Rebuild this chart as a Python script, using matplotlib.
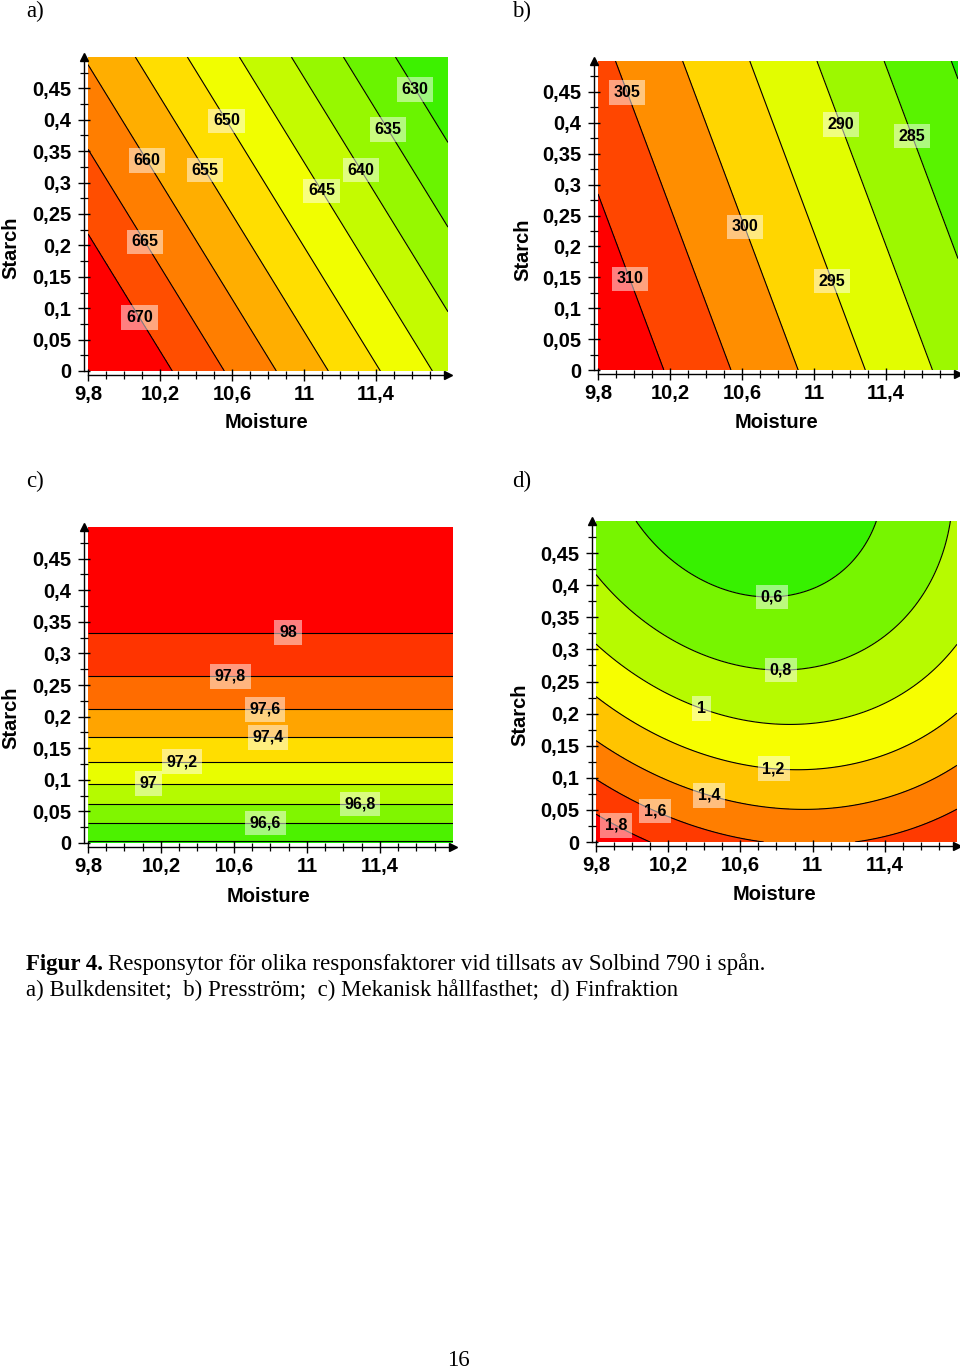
import numpy as np
import matplotlib
matplotlib.use("Agg")
import matplotlib.pyplot as plt
import matplotlib.transforms as mtransforms
from matplotlib.colors import LinearSegmentedColormap

W, H = 960, 1369
SANS = "Liberation Sans"
SERIF = "Liberation Serif"

# axes ranges and ticks shared by all four response surfaces
M_RANGE = (9.8, 11.8)
S_RANGE = (0.0, 0.5)
XTICKS = [9.8, 10.2, 10.6, 11.0, 11.4]
XTICK_LABELS = ["9,8", "10,2", "10,6", "11", "11,4"]
YTICKS = [0, 0.05, 0.1, 0.15, 0.2, 0.25, 0.3, 0.35, 0.4, 0.45]
YTICK_LABELS = ["0", "0,05", "0,1", "0,15", "0,2", "0,25", "0,3", "0,35", "0,4", "0,45"]

# response surfaces; m = moisture - 11, s = starch
# coefficients: [const, m, s, m^2, s^2, m*s]
COEF_A = [657.34, -17.3, -37.1, 0.0, 0.0, 0.0]       # Bulkdensitet
COEF_B = [298.82, -13.4, -17.2, 0.0, 0.0, 0.0]       # Pressström
COEF_C = [96.373, 0.0, 7.4, 0.0, -7.55, 0.0]         # Mekanisk hållfasthet
COEF_D = [1.582, 0.01, -3.73, 0.28, 3.145, 0.33]     # Finfraktion

LEVELS_A = [630, 635, 640, 645, 650, 655, 660, 665, 670]
LEVELS_B = [280, 285, 290, 295, 300, 305, 310]
LEVELS_C = [96.4, 96.6, 96.8, 97.0, 97.2, 97.4, 97.6, 97.8, 98.0]
LEVELS_D = [0.6, 0.8, 1.0, 1.2, 1.4, 1.6, 1.8]

# where the contour value boxes sit (moisture, starch)
LABELS_A = [(11.62, 0.449), (11.47, 0.385), (11.31, 0.319), (11.10, 0.287), (10.57, 0.398),
            (10.45, 0.320), (10.13, 0.336), (10.12, 0.206), (10.09, 0.086)]
LABELS_B = [(9.967, 0.450), (9.983, 0.148), (10.62, 0.232), (11.11, 0.145), (11.156, 0.398),
            (11.55, 0.379)]
LABELS_C = [(10.896, 0.328), (10.58, 0.260), (10.77, 0.207), (10.786, 0.164), (10.315, 0.126),
            (10.13, 0.093), (11.29, 0.061), (10.77, 0.031)]
LABELS_D = [(10.773, 0.385), (10.823, 0.270), (10.388, 0.212), (10.784, 0.115), (10.427, 0.073),
            (10.13, 0.049), (9.91, 0.026)]

# red (max) -> yellow -> green (min), linear in hue
RYG = LinearSegmentedColormap.from_list(
    "ryg", [(0.0, "#ff0000"), (0.5, "#ffff00"), (1.0, "#10ee00")])


def rect(l, t, r, b):
    return [l / W, 1 - b / H, (r - l) / W, (b - t) / H]


def surface(coef, M, S):
    m = M - 11.0
    c0, cm, cs, cmm, css, cms = coef
    return c0 + cm * m + cs * S + cmm * m * m + css * S * S + cms * m * S


def fmt(v):
    return f"{v:g}".replace(".", ",")


def panel(fig, box, coef, levels, label_pos, starch_xy, moist_xy, tag, tag_xy):
    ax = fig.add_axes(rect(*box))
    M, S = np.meshgrid(np.linspace(*M_RANGE, 301), np.linspace(*S_RANGE, 301))
    Z = surface(coef, M, S)
    zmin, zmax = Z.min(), Z.max()
    bounds = [zmin - 1] + list(levels) + [zmax + 1]
    uppers = list(levels) + [zmax]
    cols = [RYG((zmax - u) / (zmax - zmin)) for u in uppers]
    ax.contourf(M, S, Z, levels=bounds, colors=cols)
    cs = ax.contour(M, S, Z, levels=levels, colors="k", linewidths=0.8)
    txts = ax.clabel(cs, manual=label_pos, inline=False, fmt=fmt, fontsize=11.5)
    for t in txts:
        t.set_rotation(0)
        t.set_fontweight("bold")
        t.set_fontfamily(SANS)
        t.set_bbox(dict(facecolor="white", alpha=0.5, edgecolor="none", pad=3.5))

    ax.set_xlim(*M_RANGE); ax.set_ylim(*S_RANGE)
    for sp in ("top", "right"):
        ax.spines[sp].set_visible(False)
    for sp in ("left", "bottom"):
        ax.spines[sp].set_position(("outward", 3))
        ax.spines[sp].set_linewidth(1.0)
    ax.set_xticks(XTICKS)
    ax.set_xticklabels(XTICK_LABELS, fontsize=14.5, fontweight="bold", family=SANS)
    ax.set_xticks(np.arange(9.9, 11.75, 0.1), minor=True)
    ax.set_yticks(YTICKS)
    ax.set_yticklabels(YTICK_LABELS, fontsize=14.5, fontweight="bold", family=SANS)
    ax.set_yticks(np.arange(0.025, 0.49, 0.05), minor=True)
    ax.tick_params(which="major", direction="inout", length=8, width=1.0)
    ax.tick_params(axis="y", which="major", pad=5)
    ax.tick_params(axis="x", which="major", pad=3)
    ax.tick_params(which="minor", direction="inout", length=6, width=0.9)

    off = 3 / 72
    ax.plot([0], [1], marker="^", ms=6, color="k", clip_on=False,
            transform=ax.transAxes + mtransforms.ScaledTranslation(-off, 0, fig.dpi_scale_trans))
    ax.plot([1], [0], marker=">", ms=6, color="k", clip_on=False,
            transform=ax.transAxes + mtransforms.ScaledTranslation(0, -off, fig.dpi_scale_trans))

    fig.text(starch_xy[0] / W, 1 - starch_xy[1] / H, "Starch", rotation=90, ha="center",
             va="center", fontsize=14.5, fontweight="bold", family=SANS)
    fig.text(moist_xy[0] / W, 1 - moist_xy[1] / H, "Moisture", ha="center", va="center",
             fontsize=14.5, fontweight="bold", family=SANS)
    fig.text(tag_xy[0] / W, 1 - tag_xy[1] / H, tag, ha="left", va="center",
             fontsize=16.5, family=SERIF)
    return ax


fig = plt.figure(figsize=(W / 100, H / 100), dpi=100)
panel(fig, (88, 57, 448, 371), COEF_A, LEVELS_A, LABELS_A, (11, 248), (267, 423), "a)", (26, 11))
panel(fig, (598, 61, 958, 370), COEF_B, LEVELS_B, LABELS_B, (523, 250), (777, 422), "b)", (512, 11))
panel(fig, (88, 527, 453, 843), COEF_C, LEVELS_C, LABELS_C, (11, 718), (268, 896), "c)", (26, 481))
panel(fig, (596, 521, 957, 842), COEF_D, LEVELS_D, LABELS_D, (520, 715), (775, 895), "d)", (512, 481))

# caption: bold figure number followed by regular text
renderer = fig.canvas.get_renderer()
t1 = fig.text(26 / W, 1 - 970 / H, "Figur 4.", fontsize=16.5, fontweight="bold",
              family=SERIF, va="baseline")
bb = t1.get_window_extent(renderer)
fig.text((bb.x1 + 5) / W, 1 - 970 / H,
         "Responsytor för olika responsfaktorer vid tillsats av Solbind 790 i spån.",
         fontsize=16.5, family=SERIF, va="baseline")
fig.text(26 / W, 1 - 996 / H,
         "a) Bulkdensitet;  b) Presström;  c) Mekanisk hållfasthet;  d) Finfraktion",
         fontsize=16.5, family=SERIF, va="baseline")
fig.text(458 / W, 1 - 1366 / H, "16", fontsize=16.5, family=SERIF, ha="center", va="baseline")

fig.savefig("out.png", dpi=100)
